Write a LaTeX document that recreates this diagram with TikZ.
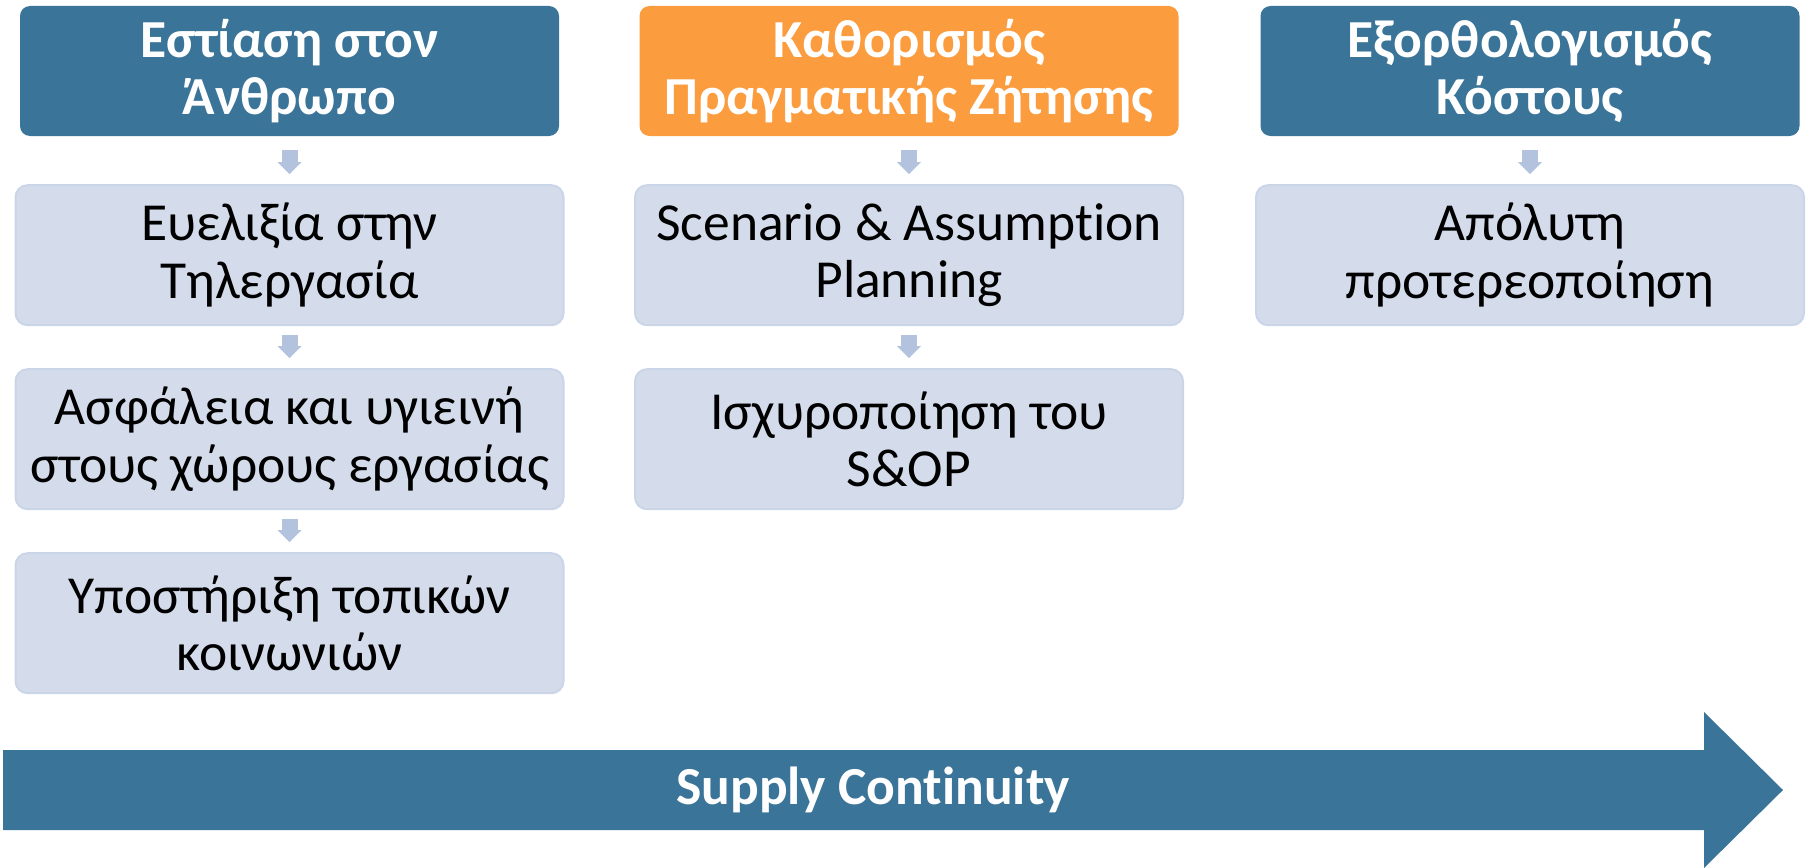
\documentclass[tikz,border=0pt]{standalone}
\usepackage{fontspec}
\setmainfont[Ligatures=NoCommon]{Carlito}
\usetikzlibrary{positioning,arrows.meta}

\definecolor{headblue}{HTML}{3A7498}
\definecolor{headorange}{HTML}{FB9D3F}
\definecolor{itemfill}{HTML}{D4DCEB}
\definecolor{itemline}{HTML}{CBD5E8}
\definecolor{stepcolor}{HTML}{B3C3DE}

\tikzset{
  header/.style={rounded corners=10pt, fill=headblue, text=white, align=center,
    font=\fontsize{53.5}{57.6}\selectfont\bfseries,
    minimum width=539pt, minimum height=130pt, inner sep=0pt},
  item/.style={rounded corners=12pt, fill=itemfill, draw=itemline, line width=2pt,
    align=center, font=\fontsize{53.5}{57.6}\selectfont,
    minimum width=548pt, minimum height=140pt, inner sep=0pt},
  stepline/.style={-{Triangle[width=23pt,length=12pt]}, line width=16pt,
    draw=stepcolor, shorten <=9pt, shorten >=10pt}
}

\begin{document}
\begin{tikzpicture}[x=1pt, y=1pt]

\useasboundingbox (0,0) rectangle (1806,-867);

%========================
% headers
%========================
\node[header] (human) at (289.5,-71) {Εστίαση στον\\Άνθρωπο};
\node[header, fill=headorange] (demand) at (909,-71) {Καθορισμός\\Πραγματικής Ζήτησης};
\node[header] (cost) at (1530,-71) {Εξορθολογισμός\\Κόστους};

%========================
% items
%========================
\node[item, below=48pt of human] (telework) {Ευελιξία στην\\Τηλεργασία};
\node[item, below=42pt of telework] (safety) {Ασφάλεια και υγιεινή\\στους χώρους εργασίας};
\node[item, below=42pt of safety] (local) {Υποστήριξη τοπικών\\κοινωνιών};

\node[item, below=48pt of demand] (scenario) {Scenario \& Assumption\\Planning};
\node[item, below=42pt of scenario] (sop) {Ισχυροποίηση του\\S\&OP};

\node[item, below=48pt of cost] (priority) {Απόλυτη\\προτερεοποίηση};

%========================
% steps
%========================
\draw[stepline, shorten <=14pt] (human) -- (telework);
\draw[stepline] (telework) -- (safety);
\draw[stepline] (safety) -- (local);
\draw[stepline, shorten <=14pt] (demand) -- (scenario);
\draw[stepline] (scenario) -- (sop);
\draw[stepline, shorten <=14pt] (cost) -- (priority);

%========================
% supply continuity arrow
%========================
\fill[headblue] (3,-750) -- (1704,-750) -- (1704,-712) -- (1783,-790)
    -- (1704,-868) -- (1704,-830) -- (3,-830) -- cycle;
\node[text=white, font=\fontsize{53.5}{57.6}\selectfont\bfseries] (continuity)
    at (873,-790) {Supply Continuity};

\end{tikzpicture}
\end{document}
